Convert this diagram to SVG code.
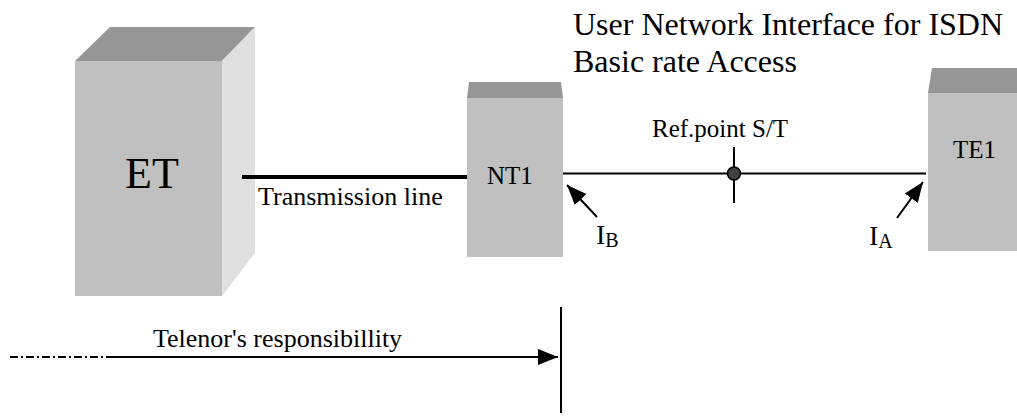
<svg xmlns="http://www.w3.org/2000/svg" width="1017" height="417" viewBox="0 0 1017 417">
<style>
.front{fill:#c0c0c0}
.top{fill:#969696}
.side{fill:#e0e0e0}
text{font-family:'Liberation Serif','Times New Roman',serif;fill:#000}
.ln{stroke:#000;fill:none}
</style>
<defs>
<marker id="ah" markerUnits="userSpaceOnUse" markerWidth="20" markerHeight="20" viewBox="0 0 20 20" refX="20" refY="10" orient="auto"><path d="M0,2 L20,10 L0,18 Z" fill="#000"/></marker>
</defs>
<rect width="1017" height="417" fill="#fff"/>
<g id="ET">
<polygon class="top" points="75,61 222,61 255,27 110,27"/>
<polygon class="side" points="222,61 255,27 255,253 222,296"/>
<rect class="front" x="75" y="61" width="147" height="235"/>
<text x="125" y="188" font-size="44">ET</text>
</g>
<g id="NT1">
<polygon class="top" points="467,98 563,98 561,82 469,82"/>
<rect class="front" x="467" y="98" width="96" height="159"/>
<text x="487" y="184" font-size="25">NT1</text>
</g>
<g id="TE1">
<polygon class="top" points="928,93 1017,93 1017,68 932,68"/>
<rect class="front" x="928" y="93" width="89" height="158"/>
<text x="953" y="158" font-size="25">TE1</text>
</g>
<g id="title">
<text x="573" y="35" font-size="32">User Network Interface for ISDN</text>
<text x="573" y="72" font-size="32">Basic rate Access</text>
</g>
<g id="connectors">
<line class="ln" x1="242" y1="177" x2="467" y2="177" stroke-width="4"/>
<line class="ln" x1="563" y1="173.5" x2="926" y2="173.5" stroke-width="2"/>
<line class="ln" x1="734" y1="147" x2="734" y2="203" stroke-width="2"/>
<circle cx="734" cy="173.5" r="6.5" fill="#404040" stroke="#000" stroke-width="1.5"/>
<line class="ln" x1="597" y1="217" x2="567" y2="185" stroke-width="2" marker-end="url(#ah)"/>
<line class="ln" x1="897" y1="218" x2="923" y2="182" stroke-width="2" marker-end="url(#ah)"/>
<line class="ln" x1="10" y1="357" x2="112" y2="357" stroke-width="2" stroke-dasharray="8,3,2,3"/>
<line class="ln" x1="112" y1="357" x2="558" y2="357" stroke-width="2" marker-end="url(#ah)"/>
<line class="ln" x1="561" y1="307" x2="561" y2="413" stroke-width="2"/>
</g>
<g id="labels">
<text x="258" y="205" font-size="26">Transmission line</text>
<text x="652" y="137" font-size="25">Ref.point S/T</text>
<text x="596" y="244" font-size="28">I<tspan font-size="20" dy="3">B</tspan></text>
<text x="869" y="245" font-size="28">I<tspan font-size="20" dy="3">A</tspan></text>
<text x="153" y="347" font-size="26">Telenor's responsibillity</text>
</g>
</svg>
